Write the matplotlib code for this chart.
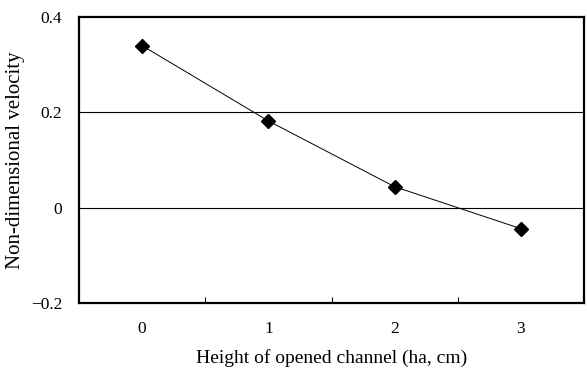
import numpy as np
import matplotlib.pyplot as plt

plt.rcParams['font.family'] = ['Liberation Serif', 'DejaVu Serif']

heights = [0, 1, 2, 3]
velocity = [0.34, 0.182, 0.044, -0.044]
yticks = [-0.2, 0, 0.2, 0.4]
ytick_labels = ['\u22120.2', '0', '0.2', '0.4']

fig = plt.figure(figsize=(5.87, 3.71), dpi=100)
ax = fig.add_axes([0.1346, 0.1833, 0.8603, 0.7707])

ax.axhline(0.2, color='black', lw=0.8, zorder=1)
ax.axhline(0.0, color='black', lw=0.8, zorder=1)
ax.plot(heights, velocity, color='black', lw=0.7, marker='D', ms=7, zorder=3)

ax.set_xlim(-0.5, 3.5)
ax.set_ylim(-0.2, 0.4)
ax.set_yticks(yticks)
ax.set_yticklabels(ytick_labels)
ax.tick_params(axis='y', length=0, labelsize=12.5, pad=12)

ax.set_xticks(heights)
ax.set_xticklabels([str(h) for h in heights])
ax.tick_params(axis='x', length=0, labelsize=12.5, pad=13)
ax.set_xticks([0.5, 1.5, 2.5], minor=True)
ax.tick_params(axis='x', which='minor', direction='in', length=4, width=0.8)

for s in ax.spines.values():
    s.set_linewidth(1.6)

ax.set_xlabel('Height of opened channel (ha, cm)', fontsize=14, labelpad=9)
ax.set_ylabel('Non-dimensional velocity', fontsize=15)
ax.yaxis.set_label_coords(-0.106, 0.5)

fig.savefig('out.png', dpi=100)
